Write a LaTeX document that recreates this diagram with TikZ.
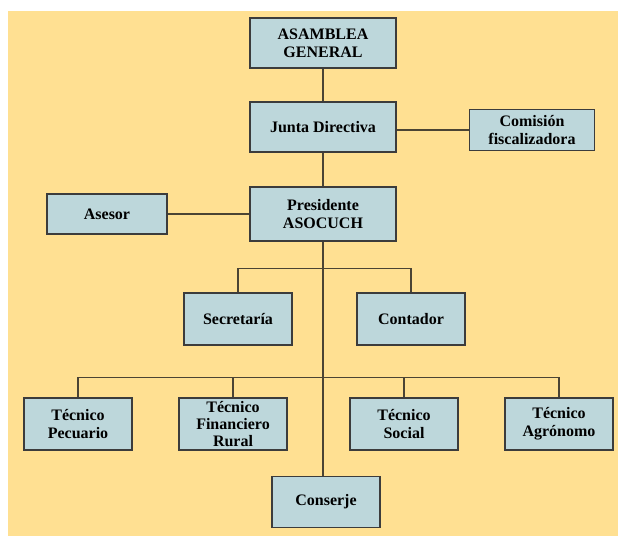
\documentclass[tikz,border=0pt]{standalone}
\usepackage{fontspec}
\setmainfont{Liberation Serif}
\usepackage{tikz}

\definecolor{fondo}{RGB}{255,224,146}
\definecolor{caja}{RGB}{189,215,219}
\definecolor{borde}{RGB}{60,60,60}
\definecolor{linea}{RGB}{75,68,52}

\begin{document}
\begin{tikzpicture}[x=0.75pt,
            y=-0.75pt,
            box/.style={draw=borde,
                        fill=caja,
                        line width=1.1pt,
                        align=center,
                        inner sep=0pt,
                        font=\bfseries\fontsize{12}{13.5}\selectfont,
                        minimum width=81pt,
                        minimum height=39pt},
            big/.style={box,minimum width=109.5pt,minimum height=37.5pt},
            link/.style={draw=linea,line width=0.8pt}]

        % fondo
        \useasboundingbox (0,0) rectangle (618,536);
        \fill[fondo] (8,11) rectangle (618,536);

        \node[big] (ag) at (323,43) {ASAMBLEA\\GENERAL};
        \node[big] (jd) [below of=ag,node distance=63pt] {Junta Directiva};
        \node[big,minimum height=40.5pt] (pr) [below of=jd,node distance=65.25pt]
              {Presidente\\ASOCUCH};
        \node[box,minimum width=93.75pt,minimum height=30.75pt] (cf)
              [right of=jd,node distance=156.75pt,yshift=-2.25pt] {Comisión\\fiscalizadora};
        \node[box,minimum width=90pt,minimum height=30pt] (as)
              [left of=pr,node distance=162pt] {Asesor};

        \node[box] (se) [below of=pr,node distance=78.75pt,xshift=-63.75pt] {Secretaría};
        \node[box] (co) [right of=se,node distance=129.75pt] {Contador};

        \node[box] (tp) [below of=se,node distance=78.75pt,xshift=-120pt] {Técnico\\Pecuario};
        \node[box,font=\bfseries\fontsize{12}{12.5}\selectfont] (tf)
              [right of=tp,node distance=116.25pt] {Técnico\\Financiero\\Rural};
        \node[box] (ts) [right of=tf,node distance=128.25pt] {Técnico\\Social};
        \node[box] (ta) [right of=ts,node distance=116.25pt] {Técnico\\Agrónomo};

        \node[box,minimum height=38.25pt] (cj) [below of=pr,node distance=216pt,xshift=2.25pt]
              {Conserje};

        \path[link] (ag) -- (jd)
                    (jd) -- (pr)
                    (cf.west -| jd.east) -- (cf.west)
                    (as) -- (pr)
                    (pr.south) -- (pr |- cj.north)
                    (se.north) -- ++(0,-24) -| (co.north)
                    (tp.north) -- ++(0,-20) -| (ta.north)
                    (tf.north) -- ++(0,-20)
                    (ts.north) -- ++(0,-20);

    \end{tikzpicture}
\end{document}
